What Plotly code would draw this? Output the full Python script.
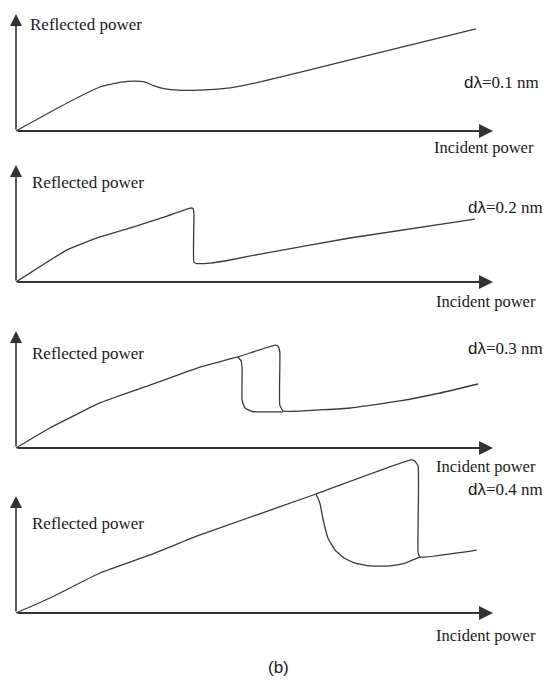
import plotly.graph_objects as go

# ---- data (incident power in arbitrary units 0..10, reflected power arbitrary units) ----
labels = ["dλ=0.1 nm", "dλ=0.2 nm", "dλ=0.3 nm", "dλ=0.4 nm"]

p1_x = [0, 1.07, 1.76, 2.18, 2.49, 2.70, 2.87, 3.10, 3.45, 3.86, 4.49, 5.12, 7.00, 9.64]
p1_y = [0, 2.39, 3.76, 4.15, 4.27, 4.20, 3.90, 3.62, 3.48, 3.50, 3.68, 4.19, 6.07, 8.72]

p2_x = [0, 1.07, 1.76, 2.45, 3.17, 3.65, 3.71, 3.73, 3.73, 3.79, 4.07, 4.49, 5.12, 7.00, 9.62]
p2_y = [0, 2.74, 3.85, 4.70, 5.64, 6.32, 6.28, 5.81, 1.71, 1.58, 1.62, 1.88, 2.39, 3.76, 5.38]

p3_up_x = [0, 0.71, 1.76, 2.81, 3.86, 4.65, 5.43, 5.49, 5.53, 5.53, 5.60, 5.95, 7.00, 8.05, 8.89, 9.69]
p3_up_y = [0, 1.71, 3.85, 5.38, 6.92, 7.78, 8.80, 8.72, 8.21, 3.68, 3.16, 3.16, 3.42, 4.02, 4.70, 5.47]
p3_lo_x = [4.65, 4.72, 4.74, 4.74, 4.80, 4.95, 5.22, 5.60]
p3_lo_y = [7.78, 7.44, 6.67, 4.10, 3.42, 3.12, 3.08, 3.08]

p4_up_x = [0, 0.71, 1.76, 2.81, 3.86, 6.29, 8.28, 8.36, 8.43, 8.43, 8.47, 9.66]
p4_up_y = [0, 1.28, 3.42, 4.96, 6.67, 10.17, 13.08, 12.99, 12.56, 5.13, 4.79, 5.38]
p4_lo_x = [6.29, 6.37, 6.44, 6.54, 6.69, 6.88, 7.11, 7.42, 7.84, 8.16, 8.47]
p4_lo_y = [10.17, 9.40, 7.95, 6.41, 5.38, 4.70, 4.27, 4.02, 4.02, 4.27, 4.79]

panels = [
    [(p1_x, p1_y)],
    [(p2_x, p2_y)],
    [(p3_up_x, p3_up_y), (p3_lo_x, p3_lo_y)],
    [(p4_up_x, p4_up_y), (p4_lo_x, p4_lo_y)],
]

# ---- layout geometry (pixels) ----
W, H = 555, 681
X0_PX = 16          # y-axis position
X_UNIT = 47.7       # px per incident-power unit
Y_UNIT = 11.7       # px per reflected-power unit
origins = [131, 282, 448, 613]
y_tops = [10.1, 9.8, 10.0, 13.5]
X_RANGE = [-0.25, 10.4]
Y_MIN = -0.4

ref_label_pos = [(28, 24), (30, 182), (30, 353), (30, 523)]
dl_pos = [(462, 82), (466, 208), (466, 348), (466, 489)]
inc_pos = [(432, 147), (434, 301), (434, 466), (434, 635)]

LINE = "#3a3a3a"
AXIS = "#333333"
SERIF = "Liberation Serif, Times New Roman, serif"
SANS = "Liberation Sans, Arial, sans-serif"

fig = go.Figure()

xdom = [(X0_PX + X_RANGE[0] * X_UNIT) / W, (X0_PX + X_RANGE[1] * X_UNIT) / W]

annotations = []
for i, curves in enumerate(panels):
    n = i + 1
    xa = "x" if n == 1 else f"x{n}"
    ya = "y" if n == 1 else f"y{n}"
    y0 = origins[i]
    bottom_px = y0 - Y_MIN * Y_UNIT
    top_px = y0 - y_tops[i] * Y_UNIT
    ydom = [1 - bottom_px / H, 1 - top_px / H]
    for cx, cy in curves:
        fig.add_trace(go.Scatter(x=cx, y=cy, mode="lines", xaxis=xa, yaxis=ya,
                                 line=dict(color=LINE, width=1.3, shape="spline", smoothing=0.4),
                                 hoverinfo="skip", showlegend=False))
    axkey = "xaxis" if n == 1 else f"xaxis{n}"
    aykey = "yaxis" if n == 1 else f"yaxis{n}"
    fig.update_layout(**{
        axkey: dict(domain=xdom, range=X_RANGE, visible=False, anchor=ya, fixedrange=True),
        aykey: dict(domain=ydom, range=[Y_MIN, y_tops[i]], visible=False, anchor=xa, fixedrange=True),
    })
    # axis arrows
    annotations.append(dict(x=10, y=0, ax=0, ay=0, xref=xa, yref=ya, axref=xa, ayref=ya,
                            text="", showarrow=True, arrowhead=2, arrowsize=1.4, arrowwidth=2,
                            arrowcolor=AXIS))
    annotations.append(dict(x=0, y=10, ax=0, ay=0, xref=xa, yref=ya, axref=xa, ayref=ya,
                            text="", showarrow=True, arrowhead=2, arrowsize=1.5, arrowwidth=1.6,
                            arrowcolor=AXIS))
    # labels
    annotations.append(dict(x=ref_label_pos[i][0] / W, y=1 - ref_label_pos[i][1] / H,
                            xref="paper", yref="paper", xanchor="left", yanchor="middle",
                            text="Reflected power", showarrow=False,
                            font=dict(family=SERIF, size=17, color="#1a1a1a")))
    annotations.append(dict(x=inc_pos[i][0] / W, y=1 - inc_pos[i][1] / H,
                            xref="paper", yref="paper", xanchor="left", yanchor="middle",
                            text="Incident power", showarrow=False,
                            font=dict(family=SERIF, size=16.5, color="#1a1a1a")))
    lab = labels[i]
    annotations.append(dict(x=dl_pos[i][0] / W, y=1 - dl_pos[i][1] / H,
                            xref="paper", yref="paper", xanchor="left", yanchor="middle",
                            text=f"<span style='font-family:{SANS}'>{lab[:2]}</span>{lab[2:]}",
                            showarrow=False,
                            font=dict(family=SERIF, size=17, color="#1a1a1a")))

annotations.append(dict(x=278 / W, y=1 - 667 / H, xref="paper", yref="paper",
                        xanchor="center", yanchor="middle", text="(b)", showarrow=False,
                        font=dict(family=SANS, size=17, color="#1a1a1a")))

fig.update_layout(width=W, height=H, margin=dict(l=0, r=0, t=0, b=0),
                  paper_bgcolor="white", plot_bgcolor="white", annotations=annotations)

fig.write_html("out.html", config={"displayModeBar": False},
               post_script="document.body.style.margin='0px';document.body.style.padding='0px';")
